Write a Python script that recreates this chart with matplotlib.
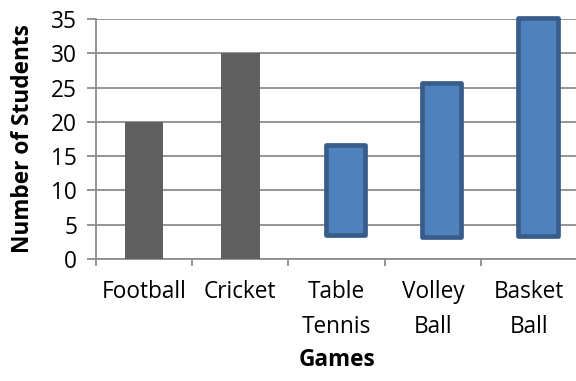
import matplotlib
matplotlib.use("Agg")
import matplotlib.pyplot as plt

plt.rcParams['font.family'] = ['Open Sans', 'DejaVu Sans']

# data
games = ['Football', 'Cricket', 'Table\nTennis', 'Volley\nBall', 'Basket\nBall']
plain_values = [20, 30]                # grey bars start at zero
float_bottoms = [3.5, 3.2, 3.4]        # blue floating bars
float_tops = [16.6, 25.6, 35.1]
y_ticks = [0, 5, 10, 15, 20, 25, 30, 35]

grid_col = '#8c8c8c'
fs = 16.3

fig = plt.figure(figsize=(5.76, 3.81), dpi=100)
ax = fig.add_axes([95.7 / 576, 122 / 381, (577.6 - 95.7) / 576, 240 / 381])

# grey bars (Football, Cricket)
xs_plain = list(range(len(plain_values)))
ax.bar(xs_plain, plain_values, width=0.40, color='#606060', zorder=3)

# blue floating bars (Table Tennis, Volley Ball, Basket Ball)
xs_float = [len(plain_values) + i + 0.09 for i in range(len(float_tops))]
heights = [t - b for t, b in zip(float_tops, float_bottoms)]
bars = ax.bar(xs_float, heights, bottom=float_bottoms, width=0.41,
              color='#4f81bd', edgecolor='#385d8a', linewidth=3.4, zorder=3)
for b in bars:
    b.set_clip_on(False)
    b.set_joinstyle('round')

ax.set_xlim(-0.5, len(games) - 0.5)
ax.set_ylim(0, 35)
ax.set_yticks(y_ticks)
ax.yaxis.grid(True, color=grid_col, linewidth=1.3, zorder=0)
ax.set_axisbelow(True)

# ticks at category boundaries, labels at centres
ax.set_xticks([i - 0.5 for i in range(len(games) + 1)])
ax.set_xticklabels([])
ax.set_xticks(range(len(games)), minor=True)
ax.set_xticklabels(games, minor=True, fontsize=fs, linespacing=1.6)
ax.tick_params(axis='x', which='minor', length=0, pad=15)
ax.tick_params(axis='x', which='major', length=5, width=1.3, color=grid_col)
ax.tick_params(axis='y', length=6.3, width=1.3, color=grid_col, labelsize=fs, pad=7)

for side in ['top', 'right']:
    ax.spines[side].set_visible(False)
for side in ['left', 'bottom']:
    ax.spines[side].set_color(grid_col)
    ax.spines[side].set_linewidth(1.3)

ax.set_xlabel('Games', fontsize=fs, fontweight='bold', labelpad=7)
ax.set_ylabel('Number of Students', fontsize=fs, fontweight='bold', labelpad=12)

fig.savefig('out.png', dpi=100)
